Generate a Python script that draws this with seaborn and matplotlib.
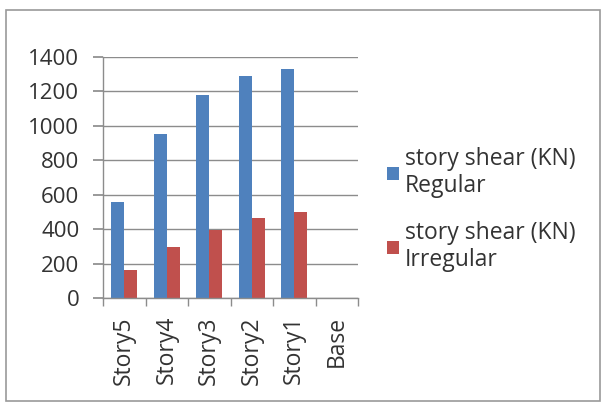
import matplotlib
matplotlib.use("Agg")
import matplotlib.pyplot as plt
import seaborn as sns
import pandas as pd
from matplotlib.patches import Rectangle

stories = ["Story5", "Story4", "Story3", "Story2", "Story1", "Base"]
regular = [560, 950, 1180, 1290, 1330, 0]
irregular = [160, 295, 395, 465, 500, 0]
series = ["story shear (KN)\nRegular", "story shear (KN)\nIrregular"]
yticks = [0, 200, 400, 600, 800, 1000, 1200, 1400]

df = pd.DataFrame({
    "story": stories * 2,
    "shear": regular + irregular,
    "series": [series[0]] * len(stories) + [series[1]] * len(stories),
})

sns.set_theme(style="white")
plt.rcParams["font.family"] = ["Open Sans", "DejaVu Sans"]

fig = plt.figure(figsize=(6.04, 4.05), dpi=100)
ax = fig.add_axes([103 / 604, 1 - 298 / 405, (358 - 103) / 604, (298 - 57) / 405])

palette = {series[0]: "#4F81BD", series[1]: "#C0504D"}
sns.barplot(data=df, x="story", y="shear", hue="series", order=stories,
            hue_order=series, palette=palette, width=0.62, dodge=True,
            saturation=1, ax=ax, edgecolor="none")

ax.set_ylim(0, 1400)
ax.set_yticks(yticks)
ax.set_yticklabels([str(v) for v in yticks], fontsize=16, color="#333333")
ax.yaxis.grid(True, color="#8c8c8c", linewidth=1)
ax.set_axisbelow(True)
ax.set_xlabel("")
ax.set_ylabel("")
ax.set_xlim(-0.5, len(stories) - 0.5)
ax.tick_params(axis="x", rotation=90, labelsize=16.5, colors="#333333", length=0, pad=13)
ax.tick_params(axis="y", left=True, length=7, color="#8c8c8c", pad=10)

# category separator ticks along the floor
ax.set_xticks([i + 0.5 for i in range(-1, len(stories))], minor=True)
ax.tick_params(axis="x", which="minor", bottom=True, length=6, color="#8c8c8c", width=1)

for side in ["top", "right"]:
    ax.spines[side].set_visible(False)
for side in ["left", "bottom"]:
    ax.spines[side].set_color("#8c8c8c")
    ax.spines[side].set_linewidth(1)

leg = ax.legend(title=None, frameon=False, fontsize=16.5, loc="upper left",
                bbox_to_anchor=(376 / 604, 1 - 136 / 405),
                bbox_transform=fig.transFigure, handlelength=0.5,
                handleheight=0.5, handletextpad=0.25, labelspacing=1.0,
                borderpad=0)
for t in leg.get_texts():
    t.set_color("#333333")
    t.set_linespacing(1.15)

fig.patches.append(Rectangle((6 / 604, 4 / 405), 594 / 604, 391 / 405,
                             transform=fig.transFigure, fill=False,
                             edgecolor="#9a9a9a", linewidth=1.2))

fig.savefig("out.png", dpi=100, facecolor="white")
